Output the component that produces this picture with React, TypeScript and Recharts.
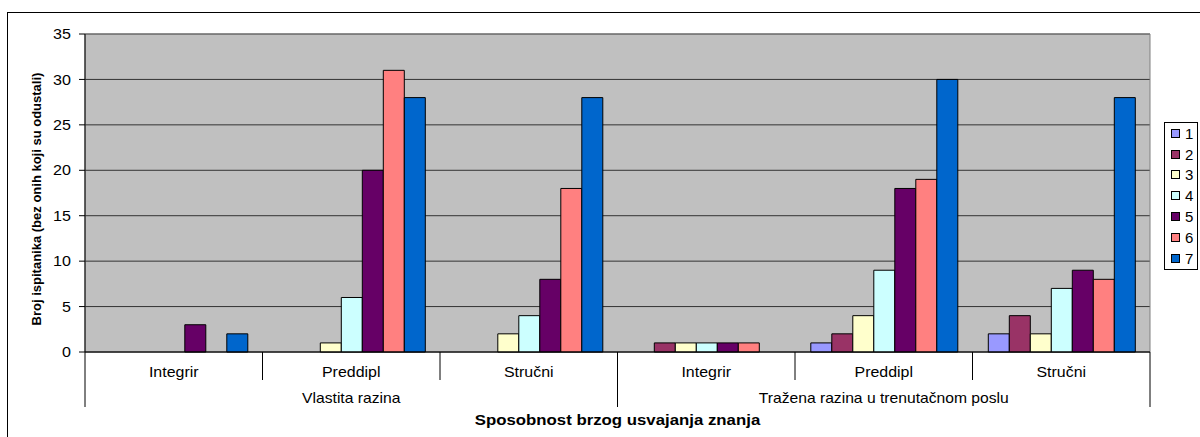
import { Bar, BarChart, CartesianGrid, Legend, ReferenceArea, XAxis, YAxis } from "recharts";

const categories = ["Integrir", "Preddipl", "Stručni", "Integrir", "Preddipl", "Stručni"];
const groups = ["Vlastita razina", "Tražena razina u trenutačnom poslu"];
const yTicks = [0, 5, 10, 15, 20, 25, 30, 35];

const s1 = [null, null, null, null, 1, 2];
const s2 = [null, null, null, 1, 2, 4];
const s3 = [null, 1, 2, 1, 4, 2];
const s4 = [null, 6, 4, 1, 9, 7];
const s5 = [3, 20, 8, 1, 18, 9];
const s6 = [null, 31, 18, 1, 19, 8];
const s7 = [2, 28, 28, null, 30, 28];

const seriesNames = ["1", "2", "3", "4", "5", "6", "7"];
const seriesValues = [s1, s2, s3, s4, s5, s6, s7];
const colors = ["#9999FF", "#993366", "#FFFFCC", "#CCFFFF", "#660066", "#FF8080", "#0066CC"];

const data = categories.map((cat, i) => {
  const row: Record<string, string | number | null> = { cat };
  seriesNames.forEach((name, s) => {
    row[name] = seriesValues[s][i];
  });
  return row;
});

const W = 1200;
const H = 437;
const Y_AXIS_W = 85;
const LEGEND_W = 48;
const MARGIN = { top: 34, right: 2, bottom: 0, left: 0 };
const PLOT_W = W - MARGIN.left - MARGIN.right - Y_AXIS_W - LEGEND_W;
const BAND = PLOT_W / categories.length;
const FONT = "'Liberation Sans', Arial, sans-serif";

// the source picture is stretched sideways a little, so horizontal text is widened to match
function Wide({ x, y, sx, children, ...rest }: any) {
  return (
    <text
      x={x}
      y={y}
      transform={`translate(${x} ${y}) scale(${sx} 1) translate(${-x} ${-y})`}
      fontFamily={FONT}
      fill="#000"
      {...rest}
    >
      {children}
    </text>
  );
}

function CategoryTick(props: any) {
  const { x, y, payload } = props;
  const i = payload.index;
  const left = x - BAND / 2;
  const long = i % 3 === 0;
  return (
    <g>
      <line x1={left} x2={left} y1={y} y2={y + (long ? 55 : 28)} stroke="#000" />
      {i === categories.length - 1 && (
        <line x1={x + BAND / 2} x2={x + BAND / 2} y1={y} y2={y + 55} stroke="#000" />
      )}
      <Wide x={x} y={y + 25} sx={1.1} textAnchor="middle" fontSize={14.5}>
        {categories[i]}
      </Wide>
      {i % 3 === 1 && (
        <Wide x={x} y={y + 51} sx={1.08} textAnchor="middle" fontSize={14.5}>
          {groups[Math.floor(i / 3)]}
        </Wide>
      )}
    </g>
  );
}

function ValueTick(props: any) {
  const { x, y, payload } = props;
  return (
    <Wide x={x} y={y} sx={1.15} textAnchor="end" dominantBaseline="central" fontSize={14}>
      {payload.value}
    </Wide>
  );
}

function LegendBox() {
  return (
    <div style={{ width: LEGEND_W, display: "flex", justifyContent: "flex-end" }}>
      <div style={{ width: 34, border: "1px solid #000", background: "#fff", boxSizing: "border-box" }}>
        {seriesNames.map((name, i) => (
          <div
            key={name}
            style={{ height: 20.8, display: "flex", alignItems: "center", paddingLeft: 6, fontFamily: FONT, fontSize: 15 }}
          >
            <span
              style={{
                width: 9,
                height: 9,
                background: colors[i],
                border: "1px solid #000",
                boxSizing: "border-box",
                marginRight: 5,
              }}
            />
            {name}
          </div>
        ))}
      </div>
    </div>
  );
}

export default function App() {
  return (
    <div style={{ position: "absolute", left: 0, top: 0, width: W, height: H, background: "#fff", overflow: "hidden" }}>
      <div
        style={{
          position: "absolute",
          left: 7,
          top: 12,
          width: W,
          height: H,
          borderLeft: "1px solid #000",
          borderTop: "1px solid #000",
        }}
      />
      <BarChart width={W} height={H} data={data} margin={MARGIN} barCategoryGap="8.9%" barGap={0}>
        <CartesianGrid vertical={false} stroke="#333" fill="#C0C0C0" fillOpacity={1} />
        <ReferenceArea y1={0} y2={35} fill="none" stroke="#808080" ifOverflow="visible" />
        <XAxis
          dataKey="cat"
          interval={0}
          tickLine={false}
          tickSize={0}
          tickMargin={0}
          axisLine={{ stroke: "#000" }}
          height={H - 352}
          tick={<CategoryTick />}
          label={{
            content: (p: any) => (
              <Wide
                x={p.viewBox.x + p.viewBox.width / 2}
                y={p.viewBox.y + 73}
                sx={1.2}
                textAnchor="middle"
                fontSize={14}
                fontWeight="bold"
              >
                Sposobnost brzog usvajanja znanja
              </Wide>
            ),
          }}
        />
        <YAxis
          width={Y_AXIS_W}
          domain={[0, 35]}
          ticks={yTicks}
          interval={0}
          tickSize={6}
          tickMargin={8}
          axisLine={{ stroke: "#000" }}
          tickLine={{ stroke: "#000" }}
          tick={<ValueTick />}
          label={{
            content: (p: any) => {
              const cx = 36;
              const cy = p.viewBox.y + p.viewBox.height / 2 + 6;
              return (
                <text
                  x={cx}
                  y={cy}
                  transform={`rotate(-90 ${cx} ${cy})`}
                  textAnchor="middle"
                  dominantBaseline="central"
                  fontSize={13}
                  fontWeight="bold"
                  fontFamily={FONT}
                  fill="#000"
                >
                  Broj ispitanika (bez onih koji su odustali)
                </text>
              );
            },
          }}
        />
        <Legend
          layout="vertical"
          align="right"
          verticalAlign="middle"
          content={<LegendBox />}
          wrapperStyle={{ top: 122, right: 2 }}
        />
        {seriesNames.map((name, i) => (
          <Bar key={name} dataKey={name} fill={colors[i]} stroke="#000" strokeWidth={1} isAnimationActive={false} />
        ))}
      </BarChart>
    </div>
  );
}
